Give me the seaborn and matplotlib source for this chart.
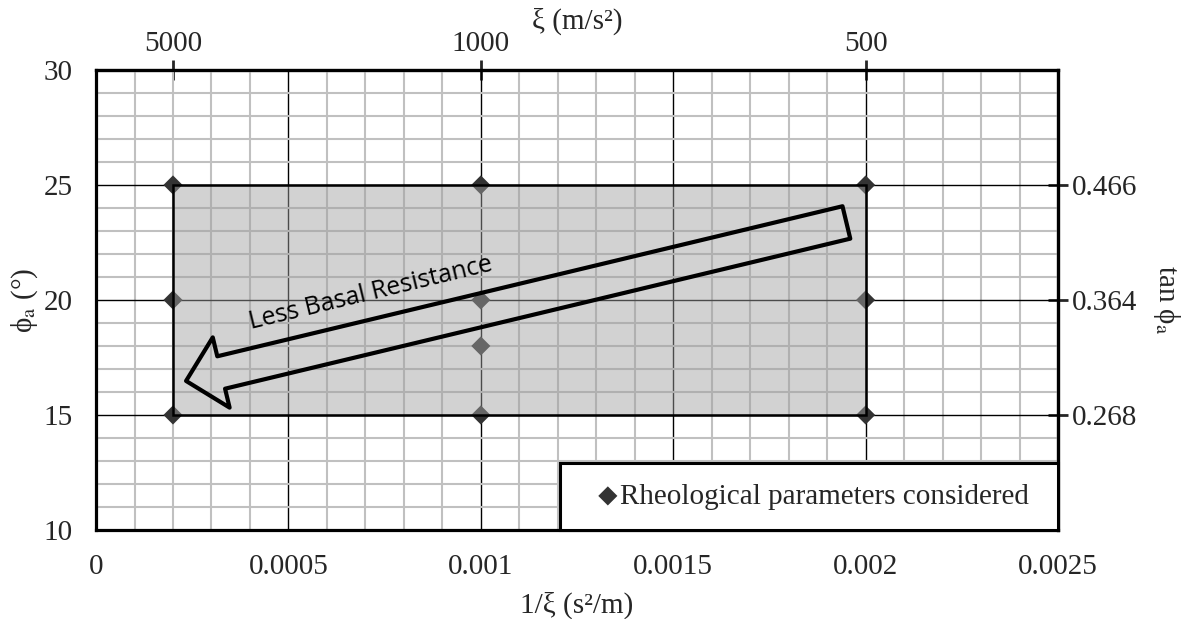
import numpy as np
import seaborn as sns
import matplotlib.pyplot as plt
import pandas as pd
from matplotlib.collections import PathCollection
from matplotlib.legend_handler import HandlerPathCollection

# rheological parameter combinations: 1/xi (s2/m) and phi_a (deg)
inv_xi = [0.0002, 0.0002, 0.0002, 0.001, 0.001, 0.001, 0.001, 0.002, 0.002, 0.002]
phi_a = [15, 20, 25, 15, 18, 20, 25, 15, 20, 25]

x_ticks = [0, 0.0005, 0.001, 0.0015, 0.002, 0.0025]
y_ticks = [10, 15, 20, 25, 30]
xi_ticks = [5000, 1000, 500]
tan_ticks = [15, 20, 25]

# arrow annotation (tail -> tip) and its caption
arrow_tail = (0.00195, 23.37)
arrow_tip = (0.000234, 16.48)
arrow_text_pos = (0.000715, 20.3)

df = pd.DataFrame({'inv_xi': inv_xi, 'phi_a': phi_a})

sns.set_style('white')
plt.rcParams['font.family'] = ['Liberation Serif', 'DejaVu Serif']
plt.rcParams['mathtext.fontset'] = 'stix'
FS = 21

fig = plt.figure(figsize=(11.84, 6.19), dpi=100)
ax = fig.add_axes([0.0811, 0.1438, 0.8125, 0.7432])

ax.set_xlim(0, 0.0025)
ax.set_ylim(10, 30)
ax.set_xticks(x_ticks, ['{:g}'.format(v) for v in x_ticks])
ax.set_xticks(np.arange(0, 0.00251, 0.0001), minor=True)
ax.set_yticks(y_ticks)
ax.set_yticks(np.arange(10, 31, 1), minor=True)
ax.grid(which='minor', color='#c0c0c0', lw=1.5)
ax.grid(which='major', color='black', lw=1)
ax.set_axisbelow(True)

# data points
sns.scatterplot(data=df, x='inv_xi', y='phi_a', marker='D', s=95, color='#333333',
                edgecolor='none', linewidth=0, ax=ax, zorder=2,
                label='Rheological parameters considered')

# shaded parameter range
x0, x1 = min(inv_xi), max(inv_xi)
y0, y1 = min(phi_a), max(phi_a)
ax.fill_between([x0, x1], y0, y1, facecolor='#a0a0a0', alpha=0.47, edgecolor='none', zorder=3)
ax.add_patch(plt.Rectangle((x0, y0), x1 - x0, y1 - y0, fill=False, ec='black', lw=1.8, zorder=4))

# hollow arrow
ax.annotate('', xy=arrow_tip, xytext=arrow_tail,
            arrowprops=dict(arrowstyle='simple,head_length=1.3,head_width=2.6,tail_width=1.2',
                            mutation_scale=20, fc='none', ec='black', lw=3,
                            shrinkA=0, shrinkB=0), zorder=5)
ax.text(*arrow_text_pos, 'Less Basal Resistance', rotation=13.6, rotation_mode='anchor',
        ha='center', va='center', fontsize=18, family=['Open Sans', 'DejaVu Sans'],
        color='black', zorder=5)

ax.set_xlabel('1/ξ (s²/m)', fontsize=FS, labelpad=9)
ax.set_ylabel(r'ϕ$_\mathrm{a}$ (°)', fontsize=FS, labelpad=2)
ax.tick_params(axis='x', which='major', direction='out', length=6, width=2, labelsize=FS, pad=11)
ax.tick_params(axis='y', which='major', direction='out', length=7, width=2, labelsize=FS, pad=10)
ax.tick_params(which='minor', length=0)
for s in ax.spines.values():
    s.set_linewidth(2.3)
    s.set_color('black')

# top axis: xi
top = ax.secondary_xaxis('top', functions=(lambda v: v, lambda v: v))
top.set_xticks([1 / v for v in xi_ticks], [str(v) for v in xi_ticks])
top.tick_params(direction='inout', length=14, width=2, labelsize=FS, pad=2)
top.set_xlabel('ξ (m/s²)', fontsize=FS, labelpad=2)
top.spines['top'].set_linewidth(2.3)

# right axis: tan phi_a
right = ax.secondary_yaxis('right', functions=(lambda v: v, lambda v: v))
right.set_yticks(tan_ticks, ['{:.3f}'.format(np.tan(np.radians(v))) for v in tan_ticks])
right.tick_params(direction='inout', length=14, width=2, labelsize=FS, pad=3)
right.set_ylabel(r'tan ϕ$_\mathrm{a}$', fontsize=FS, rotation=270, labelpad=32)
right.spines['right'].set_linewidth(2.3)

leg = ax.legend(loc='lower left', bbox_to_anchor=(0.482, 0, 0.518, 0.1), mode='expand',
                fontsize=FS, borderaxespad=0, borderpad=0.7,
                handlelength=1.3, handletextpad=0.08, frameon=True, fancybox=False,
                framealpha=1, edgecolor='black',
                handler_map={PathCollection: HandlerPathCollection(xpad=0.6)})
leg.get_frame().set_linewidth(2.2)
leg.set_zorder(10)

fig.savefig('out.png', dpi=100)
